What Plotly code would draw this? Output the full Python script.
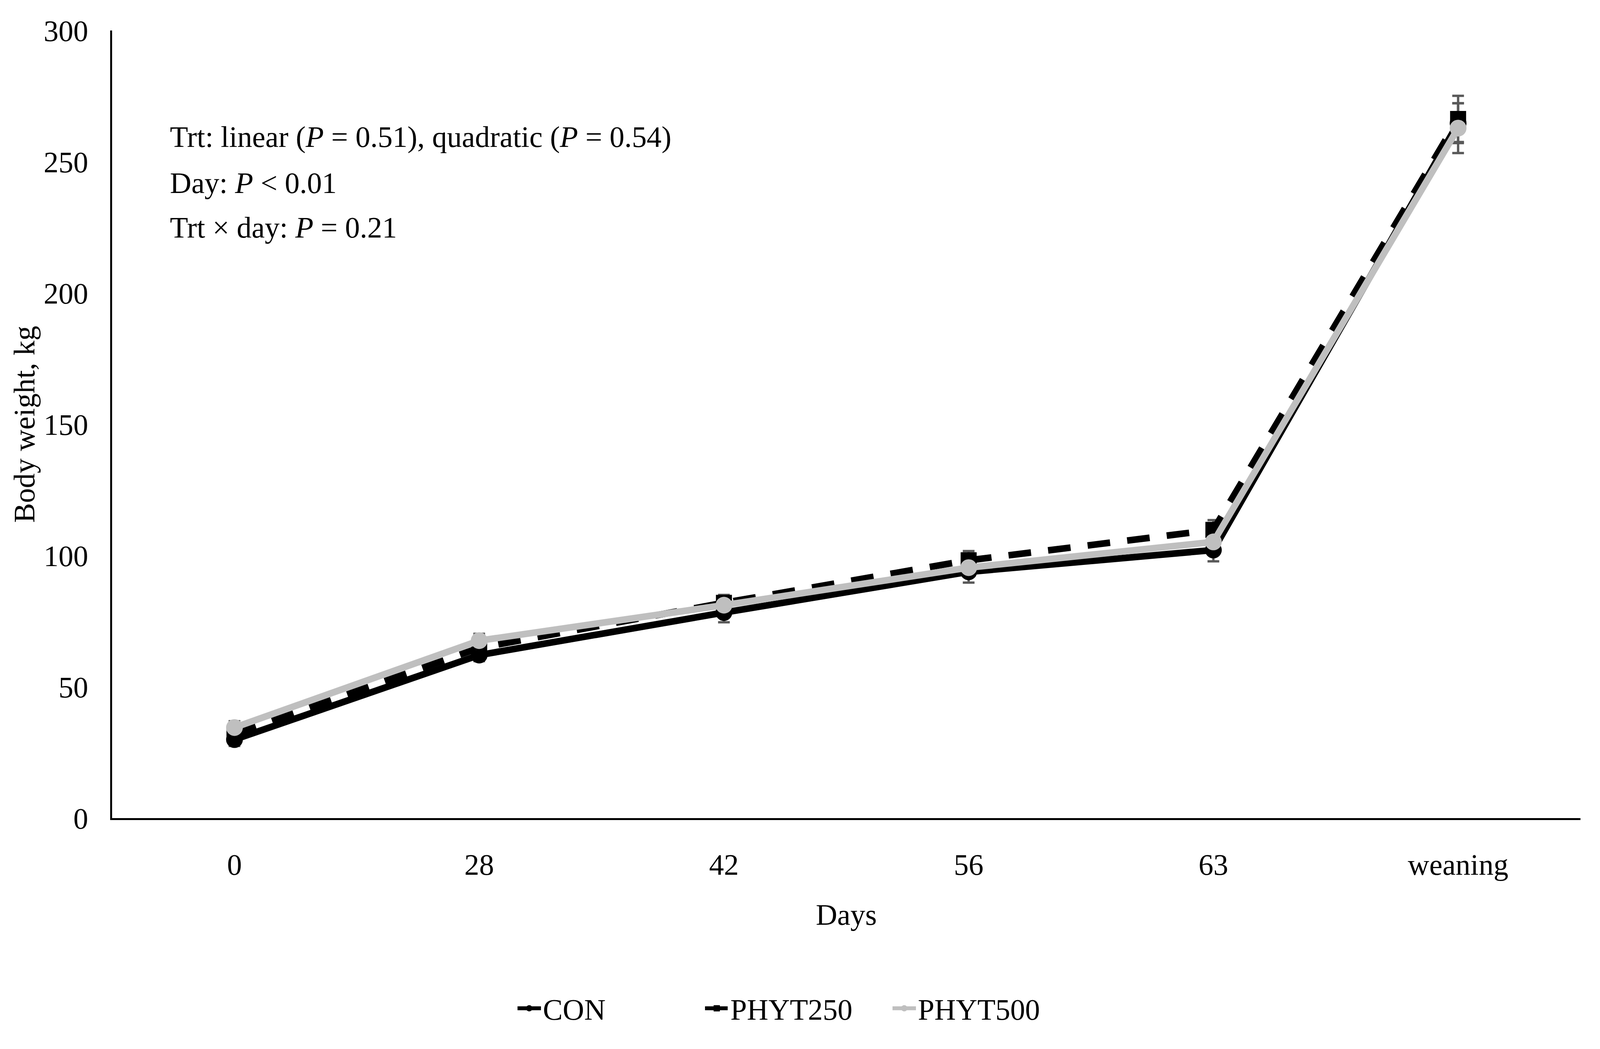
import plotly.graph_objects as go

days = ["0", "28", "42", "56", "63", "weaning"]

con = [29.9, 62.1, 78.3, 93.8, 102.1, 264.7]
phyt250 = [32.0, 64.8, 82.0, 98.2, 109.8, 266.3]
phyt500 = [34.5, 67.6, 81.1, 95.4, 105.2, 262.8]

con_se = [2.4, 2.3, 3.7, 4.1, 4.3, 7.6]
phyt250_se = [2.3, 2.4, 3.0, 3.5, 3.7, 8.8]
phyt500_se = [2.4, 2.6, 3.0, 3.4, 3.6, 9.5]

y_ticks = [0, 50, 100, 150, 200, 250, 300]

notes = [
    "Trt: linear (<i>P</i> = 0.51), quadratic (<i>P</i> = 0.54)",
    "Day: <i>P</i> &lt; 0.01",
    "Trt × day: <i>P</i> = 0.21",
]
note_y = [259.5, 242.0, 225.0]

FONT = "Liberation Serif"
FS = 76
ERR_COLOR = "#595959"
GRAY = "#BFBFBF"

fig = go.Figure()

# error bars first so they sit beneath lines and markers
for vals, se in [(con, con_se), (phyt250, phyt250_se), (phyt500, phyt500_se)]:
    fig.add_trace(go.Scatter(
        x=days, y=vals, mode="markers",
        marker=dict(size=1, color="rgba(0,0,0,0)"),
        error_y=dict(type="data", array=se, color=ERR_COLOR, thickness=6, width=15),
        showlegend=False, hoverinfo="skip",
    ))

fig.add_trace(go.Scatter(
    x=days, y=con, name="CON", mode="lines+markers",
    line=dict(color="black", width=17),
    marker=dict(symbol="circle", size=43, color="black"),
))
fig.add_trace(go.Scatter(
    x=days, y=phyt250, name="PHYT250", mode="lines+markers",
    line=dict(color="black", width=17, dash="58px,44px"),
    marker=dict(symbol="square", size=41, color="black"),
))
fig.add_trace(go.Scatter(
    x=days, y=phyt500, name="PHYT500", mode="lines+markers",
    line=dict(color=GRAY, width=17),
    marker=dict(symbol="circle", size=43, color=GRAY),
))

for txt, yy in zip(notes, note_y):
    fig.add_annotation(
        text=txt, xref="paper", yref="y", x=0.0388, y=yy,
        xanchor="left", yanchor="middle", showarrow=False,
        font=dict(family=FONT, size=FS, color="black"),
    )

fig.update_layout(
    autosize=True,
    margin=dict(l=279, r=42, t=70, b=583),
    paper_bgcolor="white", plot_bgcolor="white",
    font=dict(family=FONT, size=FS, color="black"),
    showlegend=True,
    legend=dict(
        orientation="h", xref="container", yref="container",
        x=0.498, y=0.036, xanchor="center", yanchor="middle",
        font=dict(family=FONT, size=FS, color="black"),
        itemwidth=60, traceorder="normal",
        entrywidth=405, entrywidthmode="pixels",
    ),
    xaxis=dict(
        type="category", range=[-0.5, 5.5],
        showline=True, linecolor="black", linewidth=5,
        showgrid=False, zeroline=False, ticks="",
        ticklabelstandoff=49,
        tickfont=dict(family=FONT, size=FS, color="black"),
        title=dict(text="Days", standoff=61,
                   font=dict(family=FONT, size=FS, color="black")),
    ),
    yaxis=dict(
        range=[0, 300], tickvals=y_ticks,
        showline=True, linecolor="black", linewidth=5,
        showgrid=False, zeroline=False, ticks="",
        ticklabelstandoff=41,
        tickfont=dict(family=FONT, size=FS, color="black"),
        title=dict(text="Body weight, kg", standoff=0,
                   font=dict(family=FONT, size=FS, color="black")),
    ),
)

fig.write_html("out.html")
